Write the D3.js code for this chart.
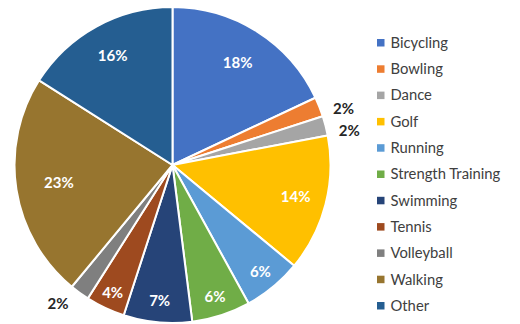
<!DOCTYPE html>
<html>
<head>
<meta charset="utf-8">
<script src="https://cdn.jsdelivr.net/npm/d3@7"></script>
<style>
  html, body { margin: 0; padding: 0; background: #fff; }
  svg { display: block; }
</style>
</head>
<body>
<svg id="chart" width="520" height="324"></svg>
<script>
// Share of each activity (percent)
const categories = ["Bicycling", "Bowling", "Dance", "Golf", "Running", "Strength Training",
                    "Swimming", "Tennis", "Volleyball", "Walking", "Other"];
const shares = [18, 2, 2, 14, 6, 6, 7, 4, 2, 23, 16];
const colors = ["#4472C4", "#ED7D31", "#A5A5A5", "#FFC000", "#5B9BD5", "#70AD47",
                "#264478", "#9E4A1F", "#7F7F7F", "#97752F", "#255E91"];

const data = categories.map((c, i) => ({ name: c, value: shares[i] }));

const svg = d3.select("#chart");
const cx = 172.5, cy = 165, R = 158;

const color = d3.scaleOrdinal().domain(categories).range(colors);

const pie = d3.pie().sort(null).value(d => d.value);
const arcs = pie(data);

const arc = d3.arc().innerRadius(0).outerRadius(R);

// Inside labels sit closer to the rim in narrow wedges, further in for wide ones
const labelR = d => R - 12 - 1.35 * d.data.value;
const insideArc = d3.arc().innerRadius(labelR).outerRadius(labelR);

// Outside labels: on a ring beyond the rim, turned slightly clockwise
const outR = 180, nudge = 3.5 * Math.PI / 180;
const outsidePos = d => {
  const a = (d.startAngle + d.endAngle) / 2 + nudge;
  return [outR * Math.sin(a), -outR * Math.cos(a)];
};

const g = svg.append("g").attr("transform", `translate(${cx},${cy})`);

g.selectAll("path.slice")
  .data(arcs)
  .join("path")
  .attr("class", "slice")
  .attr("d", arc)
  .attr("fill", d => color(d.data.name))
  .attr("stroke", "#fff")
  .attr("stroke-width", 2)
  .attr("stroke-linejoin", "round");

// Percentage labels: small slices get theirs outside the rim
const isSmall = d => d.data.value <= 2;
g.selectAll("text.pct")
  .data(arcs)
  .join("text")
  .attr("class", "pct")
  .attr("transform", d => `translate(${isSmall(d) ? outsidePos(d) : insideArc.centroid(d)})`)
  .attr("text-anchor", "middle")
  .attr("dy", "0.36em")
  .attr("font-family", "Lato, 'Open Sans', sans-serif")
  .attr("font-weight", "bold")
  .attr("font-size", 15)
  .attr("fill", d => isSmall(d) ? "#262626" : "#fff")
  .text(d => d.data.value + "%");

// Legend
const ly = d3.scalePoint().domain(categories).range([42.5, 305.5]);
const legend = svg.append("g");
const rows = legend.selectAll("g.row")
  .data(categories)
  .join("g")
  .attr("class", "row")
  .attr("transform", d => `translate(377,${ly(d)})`);

rows.append("rect")
  .attr("x", 0)
  .attr("y", -3.5)
  .attr("width", 7.5)
  .attr("height", 7.5)
  .attr("fill", d => color(d));

rows.append("text")
  .attr("x", 13.5)
  .attr("dy", "0.36em")
  .attr("font-family", "Lato, 'Open Sans', sans-serif")
  .attr("font-size", 14.8)
  .attr("fill", "#404040")
  .text(d => d);
</script>
</body>
</html>
